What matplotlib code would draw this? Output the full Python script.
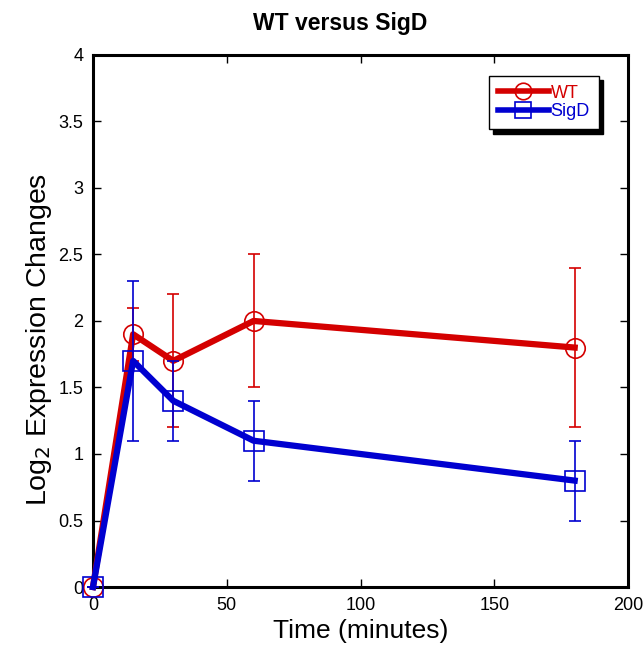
import matplotlib
matplotlib.use("Agg")
import matplotlib.pyplot as plt
from matplotlib.lines import Line2D

plt.rcParams.update({
    "font.family": ["Liberation Sans", "DejaVu Sans"],
    "font.size": 13,
})

time_min = [0, 15, 30, 60, 180]
wt_mean = [0, 1.9, 1.7, 2.0, 1.8]
wt_err = [0, 0.2, 0.5, 0.5, 0.6]
sigd_mean = [0, 1.7, 1.4, 1.1, 0.8]
sigd_err = [0, 0.6, 0.3, 0.3, 0.3]

WT_COLOR = "#d40000"
SIGD_COLOR = "#0000d0"

fig = plt.figure(figsize=(6.43, 6.53), dpi=100)
ax = fig.add_axes([0.1446, 0.101, 0.8324, 0.815])

ax.errorbar(time_min, wt_mean, yerr=wt_err, color=WT_COLOR, lw=4.5,
            marker="o", ms=14, mfc="none", mec=WT_COLOR, mew=1.2,
            ecolor=WT_COLOR, elinewidth=1.2, capsize=4, capthick=1.2,
            clip_on=False, zorder=3)
ax.errorbar(time_min, sigd_mean, yerr=sigd_err, color=SIGD_COLOR, lw=4.5,
            marker="s", ms=14, mfc="none", mec=SIGD_COLOR, mew=1.2,
            ecolor=SIGD_COLOR, elinewidth=1.2, capsize=4, capthick=1.2,
            clip_on=False, zorder=4)

ax.set_xlim(0, 200)
ax.set_ylim(0, 4)
ax.set_xticks([0, 50, 100, 150, 200])
ax.set_yticks([0, 0.5, 1, 1.5, 2, 2.5, 3, 3.5, 4])
ax.set_yticklabels(["0", "0.5", "1", "1.5", "2", "2.5", "3", "3.5", "4"])
ax.tick_params(direction="in", top=True, right=True, length=6, width=1,
               labelsize=13, pad=7)
for s in ax.spines.values():
    s.set_linewidth(2.2)

ax.set_xlabel("Time (minutes)", fontsize=19)
ax.xaxis.set_label_coords(0.5, -0.06)
ax.xaxis.label.set_va("top")
ax.set_ylabel("Log$_2$ Expression Changes", fontsize=20.5)
ax.yaxis.set_label_coords(-0.072, 0.465)
ax.set_title("WT versus SigD", fontsize=16.5, fontweight="bold", x=0.462, pad=18)

handles = [
    Line2D([], [], color=WT_COLOR, lw=4, marker="o", ms=14, mfc="none",
           mec=WT_COLOR, mew=1.2),
    Line2D([], [], color=SIGD_COLOR, lw=4, marker="s", ms=14, mfc="none",
           mec=SIGD_COLOR, mew=1.2),
]
leg = ax.legend(handles, ["WT", "SigD"], loc="upper right",
                bbox_to_anchor=(0.962, 0.978), fontsize=13,
                fancybox=False, shadow={"color": "black", "alpha": 1, "ox": 3, "oy": -3},
                edgecolor="black", framealpha=1, handlelength=2.8,
                borderpad=0.5, labelspacing=0.1, handletextpad=0.1,
                markerscale=0.85)
leg.get_frame().set_linewidth(1)
for txt, c in zip(leg.get_texts(), [WT_COLOR, SIGD_COLOR]):
    txt.set_color(c)

fig.savefig("out.png", dpi=100, facecolor="white")
